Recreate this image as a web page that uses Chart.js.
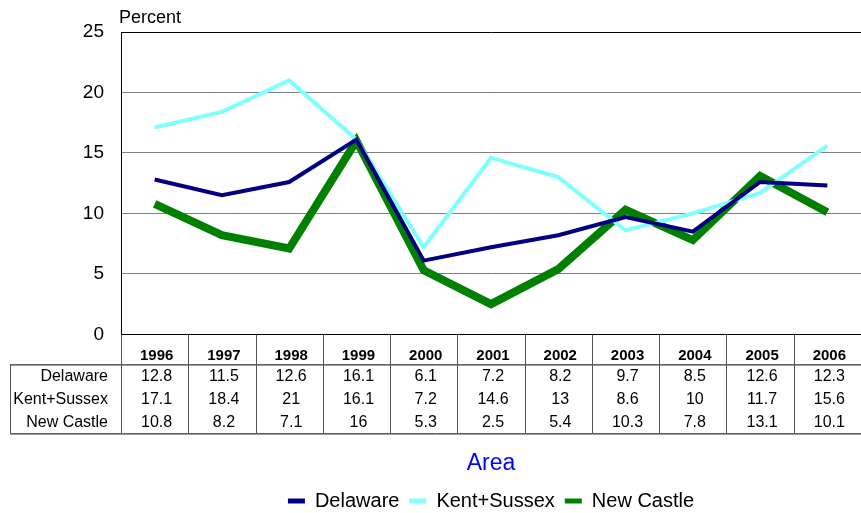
<!DOCTYPE html>
<html>
<head>
<meta charset="utf-8">
<script src="https://cdn.jsdelivr.net/npm/chart.js@4/dist/chart.umd.min.js"></script>
<style>
html,body{margin:0;padding:0;background:#fff;}
#wrap{width:861px;height:513px;position:relative;}
</style>
</head>
<body>
<div id="wrap"><canvas id="c" width="861" height="513"></canvas></div>
<script>
const years = ['1996','1997','1998','1999','2000','2001','2002','2003','2004','2005','2006'];
const delaware = [12.8,11.5,12.6,16.1,6.1,7.2,8.2,9.7,8.5,12.6,12.3];
const kentSussex = [17.1,18.4,21,16.1,7.2,14.6,13,8.6,10,11.7,15.6];
const newCastle = [10.8,8.2,7.1,16,5.3,2.5,5.4,10.3,7.8,13.1,10.1];
const seriesNames = ['Delaware','Kent+Sussex','New Castle'];
const yTicks = [0,5,10,15,20,25];

const FONT = 'Arial, "Liberation Sans", sans-serif';
Chart.defaults.font.family = FONT;
Chart.defaults.color = '#000';

const tablePlugin = {
  id: 'dataTable',
  afterDraw(chart) {
    const ctx = chart.ctx;
    const x = chart.scales.x;
    const area = chart.chartArea;
    const top = area.bottom;
    const headBottom = top + 30;
    const rowH = 23;
    const bottom = headBottom + rowH * 3;
    const leftEdge = 10;
    const step = x.getPixelForValue(1) - x.getPixelForValue(0);
    ctx.save();
    ctx.strokeStyle = '#000';
    ctx.lineWidth = 1;
    ctx.beginPath();
    ctx.moveTo(leftEdge, headBottom + 0.5); ctx.lineTo(area.right, headBottom + 0.5);
    ctx.moveTo(leftEdge, bottom + 0.5); ctx.lineTo(area.right, bottom + 0.5);
    ctx.stroke();
    ctx.strokeStyle = '#555';
    ctx.beginPath();
    ctx.moveTo(leftEdge + 0.5, headBottom); ctx.lineTo(leftEdge + 0.5, bottom);
    for (let i = 0; i < years.length; i++) {
      const b = Math.round(x.getPixelForValue(i) - step / 2) + 0.5;
      ctx.moveTo(b, top); ctx.lineTo(b, bottom);
    }
    ctx.stroke();
    ctx.fillStyle = '#000';
    ctx.textBaseline = 'middle';
    ctx.textAlign = 'center';
    ctx.font = 'bold 15px ' + FONT;
    years.forEach((y, i) => ctx.fillText(y, x.getPixelForValue(i) + 2, top + 21));
    const rows = [delaware, kentSussex, newCastle];
    ctx.font = '16px ' + FONT;
    rows.forEach((r, ri) => {
      const cy = headBottom + rowH * ri + rowH / 2 + 1;
      ctx.textAlign = 'right';
      ctx.fillText(seriesNames[ri], 108, cy);
      ctx.textAlign = 'center';
      r.forEach((v, i) => ctx.fillText(String(v), x.getPixelForValue(i) + 2, cy));
    });
    ctx.textAlign = 'left';
    ctx.font = '18px ' + FONT;
    ctx.fillText('Percent', area.left - 2, 18);
    ctx.restore();
  }
};

new Chart(document.getElementById('c'), {
  type: 'line',
  data: {
    labels: years,
    datasets: [
      { label: seriesNames[0], data: delaware, borderColor: '#000080', backgroundColor: '#000080', borderWidth: 4, pointRadius: 0, tension: 0 },
      { label: seriesNames[1], data: kentSussex, borderColor: '#80FFFF', backgroundColor: '#80FFFF', borderWidth: 4, pointRadius: 0, tension: 0 },
      { label: seriesNames[2], data: newCastle, borderColor: '#008000', backgroundColor: '#008000', borderWidth: 8, pointRadius: 0, tension: 0 }
    ]
  },
  options: {
    responsive: false,
    animation: false,
    layout: { padding: { top: 32, right: 0, bottom: -8, left: 0 } },
    plugins: {
      tooltip: { enabled: false },
      legend: {
        position: 'bottom',
        fullSize: false,
        labels: {
          font: { size: 20 },
          color: '#000',
          boxWidth: 17,
          boxHeight: 5,
          padding: 10,
          generateLabels(chart) {
            return chart.data.datasets.map((d, i) => ({
              text: d.label, fillStyle: d.borderColor, strokeStyle: d.borderColor,
              lineWidth: 0, hidden: false, datasetIndex: i, fontColor: '#000'
            }));
          }
        }
      }
    },
    scales: {
      x: {
        offset: true,
        grid: { display: false, drawTicks: false },
        border: { display: true, color: '#000', width: 1 },
        ticks: { display: false },
        title: { display: true, text: 'Area', color: '#0000FF', font: { size: 23 }, padding: { top: 115, bottom: 4 } }
      },
      y: {
        min: 0, max: 25,
        afterBuildTicks(scale) { scale.ticks = yTicks.map(v => ({ value: v })); },
        afterFit(scale) { scale.width = 121; },
        grid: {
          drawTicks: false,
          color: ctx => (ctx.tick && ctx.tick.value === 25) ? '#000' : '#808080',
          lineWidth: 1
        },
        border: { display: true, color: '#000', width: 1 },
        ticks: { font: { size: 19 }, color: '#000', padding: 17 }
      }
    }
  },
  plugins: [tablePlugin]
});
</script>
</body>
</html>
